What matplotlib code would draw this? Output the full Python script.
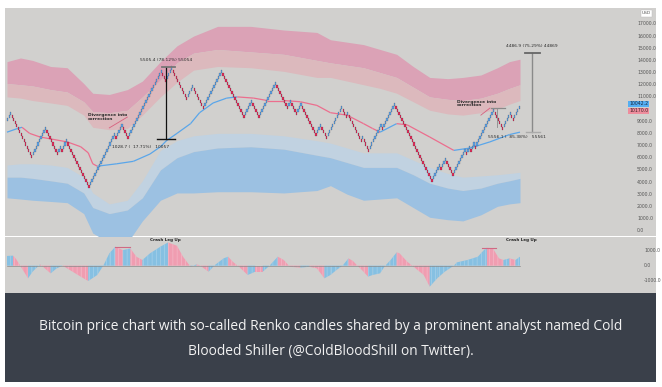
import numpy as np
import matplotlib
matplotlib.use("Agg")
import matplotlib.pyplot as plt
from matplotlib.collections import LineCollection
from matplotlib.patches import Rectangle
from matplotlib.transforms import blended_transform_factory

# ---------------- data (prices in thousand USD, x = Renko brick index) ----------------
brick_size = 0.25
start_price = 9.0
renko_runs = [3, -14, 9, -8, 2, -1, 3, -15, 17, -1, 4, -4, 22, -3, 4, -10, 4, -7, 12, -15,
              5, -5, 11, -8, 2, -4, 3, -10, 3, -4, 10, -3, 1, -9, 1, -4, 8, -1, 8, -25,
              5, -1, 3, -5, 8, -1, 2, -1, 2, -1, 12, -6, 5, -2, 4]

band_x = [0, 9, 17, 29, 40, 51, 57, 68, 80, 90, 102, 113, 124, 140, 162, 184, 206, 215,
          226, 237, 248, 259, 270, 281, 293, 303, 315, 326, 334, 341]
band_upper_top = [13.9, 14.2, 14.0, 13.5, 13.4, 12.1, 11.3, 11.2, 11.6, 12.3, 13.9, 15.2, 16.0,
                  16.8, 16.8, 16.5, 16.3, 15.7, 15.5, 15.3, 14.9, 14.5, 13.5, 12.6, 12.5, 12.6,
                  12.8, 13.4, 13.9, 14.1]
band_upper_mid = [12.1, 12.0, 11.9, 11.6, 11.4, 10.6, 9.8, 9.7, 9.9, 11.0, 12.4, 13.8, 14.6,
                  14.9, 14.7, 14.5, 14.0, 13.8, 13.6, 13.4, 13.0, 12.6, 11.8, 11.0, 10.8, 10.7,
                  10.9, 11.3, 11.7, 12.0]
band_upper_low = [11.0, 10.9, 10.7, 10.5, 10.3, 9.5, 8.5, 8.3, 8.4, 9.5, 11.0, 12.2, 13.2,
                  13.5, 13.4, 13.1, 12.6, 12.6, 12.3, 12.0, 11.7, 11.3, 10.6, 9.9, 9.6, 9.5,
                  9.7, 10.0, 10.4, 10.7]
band_lower_top = [5.4, 5.5, 5.5, 5.4, 5.2, 4.4, 3.1, 2.2, 2.5, 4.1, 6.6, 7.4, 7.8, 8.0, 8.0,
                  7.8, 7.4, 7.2, 6.8, 6.4, 6.4, 6.4, 5.8, 5.2, 4.7, 4.4, 4.5, 4.6, 4.7, 4.8]
band_lower_mid = [4.4, 4.4, 4.3, 4.1, 3.9, 3.1, 1.9, 1.4, 1.7, 2.7, 5.0, 6.0, 6.5, 6.8, 6.9,
                  6.7, 6.2, 6.0, 5.6, 5.2, 5.2, 5.2, 4.6, 3.9, 3.5, 3.3, 3.5, 3.9, 4.1, 4.3]
band_lower_low = [2.7, 2.6, 2.5, 2.4, 2.3, 1.4, -0.2, -1.0, -1.0, 0.8, 2.5, 3.1, 3.1, 3.2, 3.2,
                  3.1, 3.3, 3.7, 3.0, 2.5, 2.6, 2.7, 1.9, 1.1, 0.9, 0.8, 1.3, 2.0, 2.2, 2.3]

ma_x = [0, 7, 10, 15, 22, 40, 49, 54, 57, 60, 73, 84, 95, 102, 106, 113, 122, 128, 137, 146,
        153, 164, 173, 184, 195, 206, 215, 226, 237, 243, 248, 259, 266, 281, 297, 308, 321,
        334, 341]
ma_v = [8.1, 8.4, 8.5, 8.0, 7.7, 7.3, 6.9, 6.4, 5.5, 5.3, 5.5, 5.7, 6.3, 6.9, 7.4, 8.0, 8.8,
        9.7, 10.5, 10.9, 11.0, 10.9, 10.7, 10.7, 10.6, 10.3, 9.7, 9.5, 8.8, 8.4, 8.1, 8.8, 8.7,
        7.7, 6.6, 6.8, 7.3, 7.9, 8.1]

hist_x = [0, 4, 6, 14, 17, 22, 29, 33, 37, 40, 49, 54, 60, 64, 68, 72, 77, 82, 86, 90,
          95, 102, 107, 113, 117, 122, 126, 128, 134, 138, 144, 147, 150, 154, 160, 165, 170,
          174, 180, 184, 188, 195, 201, 206, 211, 215, 219, 223, 227, 230, 233, 237, 240, 243,
          248, 251, 255, 259, 261, 266, 270, 277, 281, 286, 291, 297, 299, 306, 313, 317, 319,
          323, 327, 330, 334, 338, 341]
hist_v = [650, 670, 450, -840, -400, 90, -510, -180, 0, -180, -730, -1020, -620, 0, 820, 1270,
          1040, 1150, 600, 380, 820, 1270, 1550, 1330, 600, -70, 90, 30, -400, 30, 490, 600,
          270, -50, -620, -400, -400, -50, 600, 380, -70, -130, -70, -180, -840, -620, -290, 0,
          490, 310, 0, -400, -730, -620, -510, -50, 380, 890, 820, 270, -50, -620, -1400, -840,
          -400, 0, 220, 380, 600, 1040, 1200, 1150, 490, 380, 490, 380, 600]

price_ticks = [0, 1, 2, 3, 4, 5, 6, 7, 8, 9, 11, 12, 13, 14, 15, 16, 17]
osc_ticks = [1000, 0, -1000]
last_price_label = "10042.2"
prev_price_label = "10170.0"
caption_lines = ["Bitcoin price chart with so-called Renko candles shared by a prominent analyst named Cold",
                 "Blooded Shiller (@ColdBloodShill on Twitter)."]

# ---------------- styling ----------------
BG = "#d1d0ce"
UP = "#5ea4ea"
DOWN = "#e62c5a"
EDGE = "#1c1f28"
W, H = 662, 387
plt.rcParams["hatch.linewidth"] = 0.35

fig = plt.figure(figsize=(W / 100, H / 100), dpi=100)
fig.patch.set_facecolor("white")


def fx(px):
    return px / W


def fy(py):
    return 1 - py / H


ax = fig.add_axes([fx(5), fy(236), 651 / W, (236 - 8) / H])
axo = fig.add_axes([fx(5), fy(293), 651 / W, (293 - 237) / H], sharex=ax)
for a in (ax, axo):
    a.set_facecolor(BG)
    for s in a.spines.values():
        s.set_visible(False)
    a.tick_params(left=False, bottom=False, labelleft=False, labelbottom=False)

n_bricks = sum(abs(r) for r in renko_runs)
bw = 513.0 / n_bricks  # pixel width of a brick
ax.set_xlim(-2 / bw, 651 / bw - 2 / bw)
ax.set_ylim(-0.44, 18.31)
axo.set_ylim(-1820, 1913)

# ---------------- bands ----------------
ax.fill_between(band_x, band_upper_mid, band_upper_top, color="#dba2b6", lw=0, zorder=1)
ax.fill_between(band_x, band_upper_low, band_upper_mid, color="#dcb9bd", lw=0, zorder=1)
ax.fill_between(band_x, band_lower_mid, band_lower_top, color="#c1d2e1", lw=0, zorder=1)
ax.fill_between(band_x, band_lower_low, band_lower_mid, color="#9cc1e2", lw=0, zorder=1)

# ---------------- moving average line (blue rising / pink falling) ----------------
pts = np.column_stack([ma_x, ma_v])
segs = np.stack([pts[:-1], pts[1:]], axis=1)
cols = []
prev = "#5aa6ea"
for a_, b_ in zip(ma_v[:-1], ma_v[1:]):
    if b_ > a_:
        prev = "#5aa6ea"
    elif b_ < a_:
        prev = "#ec6e8e"
    cols.append(prev)
ax.add_collection(LineCollection(segs, colors=cols, linewidths=0.9, zorder=2))

# ---------------- Renko bricks ----------------
bottoms, colors = [], []
last_bot, last_top = start_price, start_price
first = True
for r in renko_runs:
    for _ in range(abs(r)):
        if r > 0:
            b = last_top if not first else start_price
            bottoms.append(b)
            colors.append(UP)
            last_bot, last_top = b, b + brick_size
        else:
            t = last_bot if not first else start_price
            bottoms.append(t - brick_size)
            colors.append(DOWN)
            last_bot, last_top = t - brick_size, t
        first = False
xs = np.arange(len(bottoms)) + 0.5
ax.bar(xs, [brick_size] * len(bottoms), bottom=bottoms, width=0.9, color=colors,
       edgecolor=EDGE, linewidth=0.12, zorder=3)

# ---------------- annotations ----------------
ann = dict(fontsize=3.2, color="#2a2a2a", zorder=5)
ax.text(54, 9.68, "Divergence into\ncorrection", ha="left", va="top", fontweight="bold",
        linespacing=0.95, **ann)
ax.plot([68, 80], [8.45, 9.34], color="#d8607e", lw=0.6, zorder=4)
ax.plot([106, 106], [7.53, 13.47], color="#111111", lw=0.9, zorder=4)
ax.plot([103, 112], [13.47, 13.47], color="#777777", lw=1.3, zorder=4)
ax.plot([100, 112], [7.53, 7.53], color="#111111", lw=1.0, zorder=4)
ax.text(106, 14.05, "5505.4 (78.12%) 55054", ha="center", va="center", **ann)
ax.text(70, 6.87, "1028.7 (  17.71%)   10057", ha="left", va="center", **ann)

ax.plot([349, 349], [8.12, 14.61], color="#8a8a8a", lw=1.0, zorder=4)
ax.plot([344, 354], [14.61, 14.61], color="#666666", lw=1.3, zorder=4)
ax.plot([345, 354], [8.12, 8.12], color="#aaaaaa", lw=1.0, zorder=4)
ax.text(349, 15.2, "4486.9 (75.29%) 44869", ha="center", va="center", **ann)
ax.text(299, 10.78, "Divergence into\ncorrection", ha="left", va="top", fontweight="bold",
        linespacing=0.95, **ann)
ax.plot([315, 321], [9.5, 10.08], color="#d8607e", lw=0.6, zorder=4)
ax.plot([322, 331], [10.08, 10.08], color="#8a8a8a", lw=0.9, zorder=4)
ax.plot([326, 326], [10.0, 8.5], color="#8a8a8a", lw=0.6, zorder=4)
ax.text(320, 7.73, "5556.1 (  85.38%)   55561", ha="left", va="center", **ann)

# ---------------- price scale ----------------
tr = blended_transform_factory(ax.transAxes, ax.transData)
xl = (637 - 5) / 651
for t in price_ticks:
    ax.text(xl, t, f"{t * 1000:.1f}", transform=tr, fontsize=3.3, color="#555555",
            ha="left", va="center")
ax.text(xl - 0.012, 10.42, last_price_label, transform=tr, fontsize=3.3,
        color="#1b2a40", ha="left", va="center",
        bbox=dict(boxstyle="square,pad=0.18", fc="#55aef2", ec="none"))
ax.text(xl - 0.012, 9.84, prev_price_label, transform=tr, fontsize=3.3, color="#3a2026",
        ha="left", va="center", bbox=dict(boxstyle="square,pad=0.18", fc="#ee8d9d", ec="none"))
ax.text(0.9855, 0.985, "USD", transform=ax.transAxes, fontsize=3.2, color="#555555",
        ha="center", va="top", bbox=dict(boxstyle="square,pad=0.3", fc="white", ec="#bbbbbb", lw=0.3))

# ---------------- oscillator histogram ----------------
for i in range(len(hist_x) - 1):
    rising = hist_v[i + 1] > hist_v[i]
    c = "#86c0e2" if rising else "#f09db1"
    ec = "#b4d8ee" if rising else "#f6c4d0"
    axo.fill_between([hist_x[i], hist_x[i + 1]], [0, 0], [hist_v[i], hist_v[i + 1]],
                     facecolor=c, edgecolor=ec, hatch="||||", lw=0, zorder=2)
axo.plot([hist_x[0], hist_x[-1]], [0, 0], color="#8a8a8a", lw=0.5, zorder=3)
axo.plot([72, 82], [1230, 1230], color="#d06a84", lw=0.8, zorder=4)
axo.plot([316, 325], [1200, 1200], color="#d06a84", lw=0.8, zorder=4)
axo.text(105, 1713, "Crash Leg Up", fontsize=3.0, fontweight="bold", color="#222222",
         ha="center", va="center", zorder=5)
axo.text(342, 1713, "Crash Leg Up", fontsize=3.0, fontweight="bold", color="#222222",
         ha="center", va="center", zorder=5)
tro = blended_transform_factory(axo.transAxes, axo.transData)
for t in osc_ticks:
    axo.text((644 - 5) / 651, t, f"{t:.1f}", transform=tro, fontsize=3.3, color="#555555",
             ha="left", va="center")

# ---------------- caption box ----------------
fig.add_artist(Rectangle((fx(5), fy(382)), 651 / W, (382 - 293) / H, transform=fig.transFigure,
                         facecolor="#3a404a", edgecolor="none", zorder=0))
for line, py in zip(caption_lines, [327, 351]):
    fig.text(fx(330.5), fy(py), line, ha="center", va="center", color="#f2f2f2",
             fontsize=9.9, family=["Open Sans", "DejaVu Sans"])

fig.savefig("out.png", dpi=100, facecolor="white")
